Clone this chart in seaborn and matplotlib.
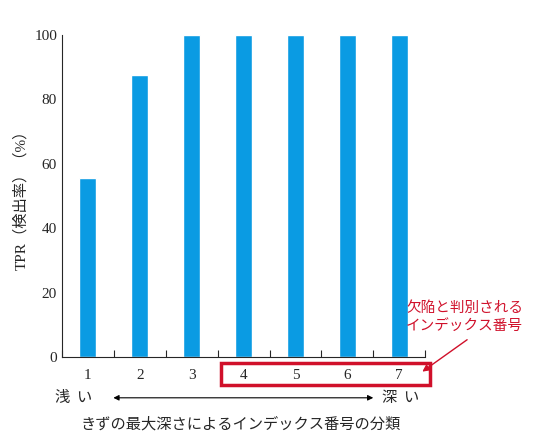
import matplotlib
matplotlib.use("Agg")
import matplotlib.pyplot as plt
import seaborn as sns
from matplotlib.patches import Rectangle

categories = ["1", "2", "3", "4", "5", "6", "7"]
tpr = [55.5, 87.5, 100, 100, 100, 100, 100]
yticks = [0, 20, 40, 60, 80, 100]

sns.set_style("ticks")
plt.rcParams["font.family"] = ["Liberation Serif", "Noto Sans CJK JP"]

fig = plt.figure(figsize=(5.53, 4.42), dpi=100)
ax = fig.add_axes([0.112, 0.192, 0.657, 0.729])
sns.barplot(x=categories, y=tpr, color="#0a9be3", saturation=1, width=0.33, ax=ax)
ax.set_ylim(0, 100)
ax.set_xlim(-0.5, 6.5)
ax.set_yticks(yticks)
ax.set_xticks([i + 0.5 for i in range(-1, 7)], minor=False)
ax.set_xticklabels([])
for i, c in enumerate(categories):
    ax.text(i, -5.6, c, ha="center", va="center", fontsize=11)
ax.tick_params(axis="x", direction="in", length=5, width=0.8)
ax.tick_params(axis="y", direction="in", length=0, labelsize=11)
sns.despine(ax=ax)
for s in ["left", "bottom"]:
    ax.spines[s].set_linewidth(0.8)
ax.set_ylabel("TPR（検出率）（%）", fontsize=11, family=["Liberation Serif", "Noto Sans CJK JP"])
ax.set_xlabel("")

# red box around 4-7
ax.add_patch(Rectangle((2.57, -1.9), 4.02, -6.8, transform=ax.transData, fill=False,
                       edgecolor="#d0102a", linewidth=2.5, clip_on=False))
fig.text(0.84, 0.283, "欠陥と判別される\nインデックス番号", color="#d0102a", fontsize=10.5,
         ha="center", va="center", linespacing=1.3, family="Noto Sans CJK JP")
ax.annotate("", xy=(6.4, -5), xytext=(7.35, 5.9), annotation_clip=False,
            arrowprops=dict(arrowstyle="-|>", color="#d0102a", lw=1))

fig.text(0.099, 0.1, "浅  い", fontsize=11, va="center", family="Noto Sans CJK JP")
fig.text(0.69, 0.1, "深  い", fontsize=11, va="center", family="Noto Sans CJK JP")
fig.add_artist(matplotlib.patches.FancyArrowPatch((0.2, 0.1), (0.68, 0.1), transform=fig.transFigure,
               arrowstyle="<|-|>", mutation_scale=8, color="black", lw=0.8))
fig.text(0.435, 0.04, "きずの最大深さによるインデックス番号の分類", fontsize=11, ha="center",
         va="center", family="Noto Sans CJK JP")

fig.savefig("out.png", dpi=100)
